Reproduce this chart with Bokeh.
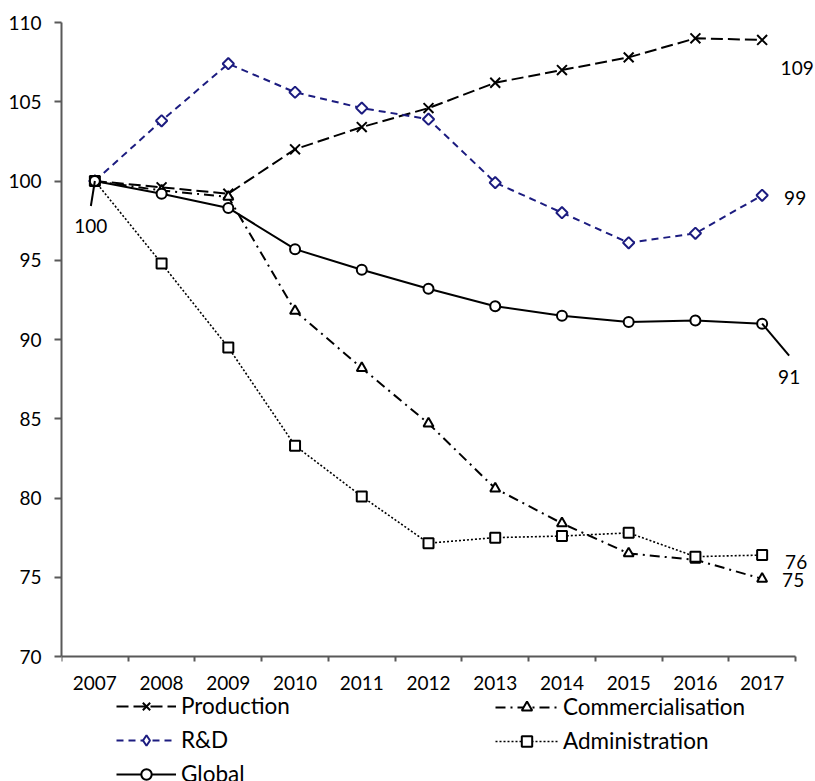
import numpy as np
from bokeh.plotting import figure
from bokeh.models import Range1d, FixedTicker, Legend, LegendItem, ColumnDataSource
from bokeh.core.properties import value
from bokeh.embed import file_html
from bokeh.resources import INLINE

years = ["2007", "2008", "2009", "2010", "2011", "2012", "2013", "2014", "2015", "2016", "2017"]
production = [100, 99.6, 99.2, 102.0, 103.4, 104.6, 106.2, 107.0, 107.8, 109.0, 108.9]
commercialisation = [100, 99.4, 99.0, 91.8, 88.2, 84.7, 80.6, 78.4, 76.5, 76.1, 74.9]
rd = [100, 103.8, 107.4, 105.6, 104.6, 103.9, 99.9, 98.0, 96.1, 96.7, 99.1]
administration = [100, 94.8, 89.5, 83.3, 80.1, 77.15, 77.5, 77.6, 77.8, 76.3, 76.4]
global_ = [100, 99.2, 98.3, 95.7, 94.4, 93.2, 92.1, 91.5, 91.1, 91.2, 91.0]

x = list(range(len(years)))
FONT = "Lato"
AX = "#595959"
NAVY = "#1c1c80"
PX_X = 734 / 11.0   # pixels per category
PX_Y = 634 / 40.0   # pixels per y unit
Y_MIN, Y_MAX = 70, 110

p = figure(width=815, height=781, output_backend="svg", toolbar_location=None,
           x_range=Range1d(-0.5, -0.5 + 754 / PX_X),
           y_range=Range1d(Y_MIN - 125 / PX_Y, Y_MAX),
           min_border_left=61, min_border_right=0, min_border_top=22, min_border_bottom=0)
p.outline_line_color = None
p.grid.visible = False
p.background_fill_color = "white"
p.border_fill_color = "white"

xa = p.xaxis[0]
xa.fixed_location = Y_MIN
xa.ticker = FixedTicker(ticks=x, minor_ticks=[i - 0.5 for i in range(len(years) + 1)])
xa.major_label_overrides = {i: yr for i, yr in enumerate(years)}
xa.bounds = (-0.5, 10.5)
xa.major_tick_line_color = None
xa.major_tick_out = 0
xa.major_tick_in = 0
xa.minor_tick_out = 5
xa.minor_tick_in = 0
xa.minor_tick_line_color = AX
xa.minor_tick_line_width = 2
xa.axis_line_color = AX
xa.axis_line_width = 2
xa.major_label_text_font = FONT
xa.major_label_text_font_size = "19px"
xa.major_label_text_color = "black"
xa.major_label_standoff = 14

ya = p.yaxis[0]
ya.ticker = FixedTicker(ticks=list(range(Y_MIN, Y_MAX + 1, 5)))
ya.bounds = (Y_MIN, Y_MAX)
ya.major_tick_out = 7
ya.major_tick_in = 0
ya.minor_tick_line_color = None
ya.major_tick_line_color = AX
ya.major_tick_line_width = 2
ya.axis_line_color = AX
ya.axis_line_width = 2
ya.major_label_text_font = FONT
ya.major_label_text_font_size = "19px"
ya.major_label_text_color = "black"
ya.major_label_standoff = 13

def series(vals, color, dash, marker, size, angle=0.0, lw=2):
    src = ColumnDataSource(dict(x=x, y=vals))
    ln = p.line("x", "y", source=src, line_color=color, line_width=lw, line_dash=dash)
    sc = p.scatter("x", "y", source=src, marker=marker, size=size, angle=angle,
                   line_color=color, line_width=2, fill_color="white")
    return [ln, sc]

r_prod = series(production, "black", "12 5", "x", 14)
r_comm = series(commercialisation, "black", "10 5 2 5", "triangle", 10)
r_rd = series(rd, NAVY, "7 5", "square", 8, angle=np.pi / 4)
r_adm = series(administration, "black", "2 2", "square", 10, lw=1.6)
r_glob = series(global_, "black", "solid", "circle", 10)

# legend-only proxy for the diamond marker (NaN position, never drawn on the chart)
rd_proxy = p.scatter(x=[np.nan], y=[np.nan], marker="diamond", size=13,
                     line_color=NAVY, line_width=2, fill_color="white")

# leader lines
p.segment(x0=[0, 10], y0=[global_[0], global_[-1]],
          x1=[0 - 4 / PX_X, 10 + 27 / PX_X],
          y1=[global_[0] - 25 / PX_Y, global_[-1] - 32 / PX_Y],
          line_color="black", line_width=2)

lab_y = [global_[0], production[-1], rd[-1], global_[-1], administration[-1], commercialisation[-1]]
lab = ColumnDataSource(dict(
    x=[0, 10, 10, 10, 10, 10],
    y=lab_y,
    text=[str(int(round(v))) for v in lab_y],
    dx=[-4, 35, 33, 27, 34, 31],
    dy=[45, 28, 3, 53, 7, 1],
))
p.text(x="x", y="y", text="text", x_offset="dx", y_offset="dy", source=lab,
       text_font=value(FONT), text_font_size="19px", text_color="black",
       text_align="center", text_baseline="middle")

def mk_legend(items, loc, gw):
    leg = Legend(items=[LegendItem(label=lbl, renderers=r) for lbl, r in items],
                 location=loc, orientation="vertical")
    leg.padding = 0
    leg.margin = 0
    leg.border_line_color = None
    leg.background_fill_alpha = 0
    leg.glyph_width = gw
    leg.glyph_height = 26
    leg.label_height = 26
    leg.spacing = 7
    leg.label_standoff = 5
    leg.label_text_font = FONT
    leg.label_text_font_size = "22.5px"
    leg.label_text_color = "black"
    return leg

p.add_layout(mk_legend([("Production", r_prod), ("R&D", [r_rd[0], rd_proxy]), ("Global", r_glob)],
                       (55, -6), 60))
p.add_layout(mk_legend([("Commercialisation", r_comm), ("Administration", r_adm)],
                       (434, 27), 63))

open("out.html", "w").write(file_html(p, INLINE))
